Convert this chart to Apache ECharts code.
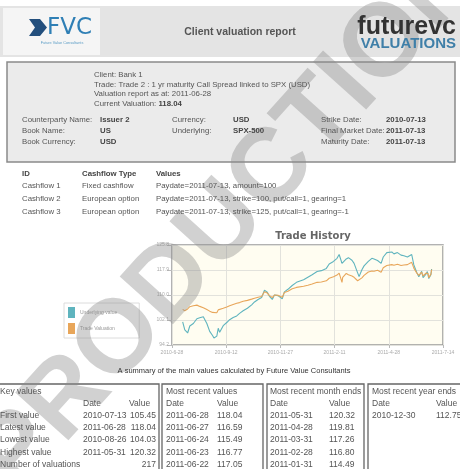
<!DOCTYPE html>
<html><head><meta charset="utf-8">
<script src="https://cdn.jsdelivr.net/npm/echarts@6/dist/echarts.min.js"></script>
<style>html,body{margin:0;padding:0;background:#fff}#c{width:460px;height:469px}</style>
</head><body><div id="c"></div>
<script>
// ---- chart data ----
const dates = ['2010-07-13','2010-07-16','2010-07-20','2010-07-23','2010-07-28','2010-08-02','2010-08-06','2010-08-11','2010-08-16','2010-08-20','2010-08-24','2010-08-26','2010-08-30','2010-09-01','2010-09-03','2010-09-08','2010-09-13','2010-09-17','2010-09-22','2010-09-27','2010-10-01','2010-10-06','2010-10-12','2010-10-18','2010-10-22','2010-10-27','2010-11-01','2010-11-05','2010-11-09','2010-11-12','2010-11-16','2010-11-19','2010-11-24','2010-11-30','2010-12-03','2010-12-08','2010-12-14','2010-12-20','2010-12-30','2011-01-05','2011-01-11','2011-01-18','2011-01-24','2011-01-31','2011-02-04','2011-02-10','2011-02-15','2011-02-18','2011-02-22','2011-02-23','2011-02-28','2011-03-03','2011-03-08','2011-03-11','2011-03-16','2011-03-18','2011-03-22','2011-03-25','2011-03-31','2011-04-05','2011-04-08','2011-04-13','2011-04-18','2011-04-21','2011-04-26','2011-04-28','2011-05-03','2011-05-06','2011-05-11','2011-05-16','2011-05-20','2011-05-25','2011-05-31','2011-06-03','2011-06-07','2011-06-10','2011-06-14','2011-06-16','2011-06-20','2011-06-22','2011-06-23','2011-06-24','2011-06-27','2011-06-28'];
const tradeValues = [105.45,105.0,105.6,106.3,106.6,106.8,106.4,106.0,105.4,104.9,104.5,104.03,104.4,105.3,105.1,105.8,106.2,106.6,107.0,107.4,107.6,108.0,108.3,108.7,109.0,109.3,109.5,111.0,110.6,109.8,109.2,110.0,109.9,109.3,110.8,111.2,112.0,112.4,112.75,113.1,113.5,114.0,114.1,114.49,115.3,115.8,116.3,116.9,114.0,115.6,116.80,116.4,116.0,115.6,114.5,114.0,115.4,116.2,117.26,117.6,117.5,117.8,117.2,118.6,119.3,119.81,119.6,119.4,119.7,119.3,119.5,119.6,120.32,118.5,117.0,116.2,117.2,116.0,116.9,117.05,116.77,115.49,116.59,118.04];
const underlyingValues = [101.5,99.0,98.0,100.2,101.0,102.5,102.8,103.1,101.0,98.5,97.2,96.4,97.0,99.5,98.2,100.3,101.3,102.2,102.9,103.4,104.2,105.0,105.8,106.9,107.8,108.6,109.2,111.5,110.9,109.6,108.6,110.0,109.8,108.8,111.0,111.8,113.0,114.0,114.8,115.6,116.4,117.4,117.7,118.4,119.8,120.6,121.6,122.8,120.0,120.4,121.4,121.8,121.0,120.0,117.0,115.8,118.0,119.2,120.6,121.6,121.4,120.9,120.0,122.0,123.4,124.0,123.6,123.0,123.4,122.6,122.4,122.0,122.8,119.5,117.2,115.8,117.5,115.5,116.6,117.4,116.9,115.2,116.4,118.2];
const seriesNames = ['Underlying value', 'Trade Valuation'];
const xTickLabels = ['2010-6-28','2010-9-12','2010-11-27','2011-2-11','2011-4-28','2011-7-14'];
const xRange = ['2010-06-28', '2011-07-14'];
const yRange = [94.2, 125.8];
const yStep = 7.9;

// ---- report text ----
const clientLines = ['Client: Bank 1', 'Trade: Trade 2 : 1 yr maturity Call Spread linked to SPX (USD)', 'Valuation report as at: 2011-06-28'];
const currentValuation = '118.04';
const infoLabels1 = ['Counterparty Name:', 'Book Name:', 'Book Currency:'];
const infoValues1 = ['Issuer 2', 'US', 'USD'];
const infoLabels2 = ['Currency:', 'Underlying:'];
const infoValues2 = ['USD', 'SPX-500'];
const infoLabels3 = ['Strike Date:', 'Final Market Date:', 'Maturity Date:'];
const infoValues3 = ['2010-07-13', '2011-07-13', '2011-07-13'];
const cashflowHeader = ['ID', 'Cashflow Type', 'Values'];
const cashflowIds = ['Cashflow 1', 'Cashflow 2', 'Cashflow 3'];
const cashflowTypes = ['Fixed cashflow', 'European option', 'European option'];
const cashflowValues = ['Paydate=2011-07-13, amount=100', 'Paydate=2011-07-13, strike=100, put/call=1, gearing=1', 'Paydate=2011-07-13, strike=125, put/call=1, gearing=-1'];
const caption = 'A summary of the main values calculated by Future Value Consultants';
const keyLabels = ['First value', 'Latest value', 'Lowest value', 'Highest value', 'Number of valuations'];
const keyDates = ['2010-07-13', '2011-06-28', '2010-08-26', '2011-05-31', ''];
const keyVals = ['105.45', '118.04', '104.03', '120.32', '217'];
const recentDates = ['2011-06-28', '2011-06-27', '2011-06-24', '2011-06-23', '2011-06-22'];
const recentVals = ['118.04', '116.59', '115.49', '116.77', '117.05'];
const monthDates = ['2011-05-31', '2011-04-28', '2011-03-31', '2011-02-28', '2011-01-31'];
const monthVals = ['120.32', '119.81', '117.26', '116.80', '114.49'];
const yearDates = ['2010-12-30'];
const yearVals = ['112.75'];

function ts(s) { const p = s.split('-').map(Number); return Date.UTC(p[0], p[1] - 1, p[2]); }
const xMin = ts(xRange[0]), xMax = ts(xRange[1]);
const xInterval = (xMax - xMin) / (xTickLabels.length - 1);

const FF = 'Liberation Sans, Arial, sans-serif';
const IS = 7.8;
function T(x, y, text, o) {
  o = o || {};
  return { type: 'text', x: x, y: y, z: o.z || 20, silent: true,
    style: { text: text, fill: o.color || '#555', fontSize: o.size || IS, fontFamily: o.family || FF,
      fontWeight: o.weight || 'normal', align: o.align || 'left', verticalAlign: 'middle' } };
}
function R(x, y, w, h, fill, stroke, lw, z) {
  return { type: 'rect', z: z || 1, silent: true, shape: { x: x, y: y, width: w, height: h },
    style: { fill: fill, stroke: stroke || null, lineWidth: lw || 0 } };
}

const g = [];
// header
g.push(R(0, 6, 460, 51, '#e4e4e4'));
g.push(R(3, 8, 97, 47, '#f5f5f5'));
g.push({ type: 'polygon', z: 3, silent: true, shape: { points: [[29, 19], [40, 19], [47, 27.5], [40, 36], [29, 36], [35, 27.5]] }, style: { fill: '#234f7d' } });
g.push(T(47, 28, 'FVC', { size: 23, color: '#2f7fb5', family: 'DejaVu Sans, sans-serif' }));
g.push(T(62, 43, 'Future Value Consultants', { size: 3.8, color: '#5a9cc5', align: 'center' }));
g.push(T(240, 32, 'Client valuation report', { size: 10.5, weight: 'bold', color: '#555', align: 'center' }));
g.push(T(456, 27, 'futurevc', { size: 25, weight: 'bold', color: '#333', align: 'right' }));
g.push(T(456, 44, 'VALUATIONS', { size: 15, weight: 'bold', color: '#3f7fa8', align: 'right' }));

// info box
g.push(R(7, 62, 448, 100, '#ebebeb', '#8a8a8a', 1.5));
clientLines.forEach((t, i) => g.push(T(94, 75 + i * 9.5, t)));
g.push({ type: 'text', x: 94, y: 103.5, z: 20, silent: true,
  style: { text: '{a|Current Valuation: }{b|' + currentValuation + '}', fontSize: IS, fontFamily: FF, verticalAlign: 'middle',
    rich: { a: { fill: '#555', fontSize: IS, fontFamily: FF }, b: { fill: '#444', fontSize: IS, fontFamily: FF, fontWeight: 'bold' } } } });
const rowsY = [120, 131, 142];
infoLabels1.forEach((t, i) => { g.push(T(22, rowsY[i], t)); g.push(T(100, rowsY[i], infoValues1[i], { weight: 'bold', color: '#444' })); });
infoLabels2.forEach((t, i) => { g.push(T(172, rowsY[i], t)); g.push(T(233, rowsY[i], infoValues2[i], { weight: 'bold', color: '#444' })); });
infoLabels3.forEach((t, i) => { g.push(T(321, rowsY[i], t)); g.push(T(386, rowsY[i], infoValues3[i], { weight: 'bold', color: '#444' })); });

// cashflow table
const cfX = [22, 82, 156];
cashflowHeader.forEach((t, i) => g.push(T(cfX[i], 174, t, { weight: 'bold', color: '#444' })));
cashflowIds.forEach((t, i) => {
  const y = 186 + i * 13;
  g.push(T(cfX[0], y, t)); g.push(T(cfX[1], y, cashflowTypes[i])); g.push(T(cfX[2], y, cashflowValues[i]));
});

// caption
g.push(T(234, 371, caption, { size: 7.5, color: '#333', align: 'center' }));

// summary boxes
const boxes = [
  { x: -2, w: 161, title: 'Key values', dx: 0, vx: 129 },
  { x: 162, w: 101, title: 'Most recent values', dx: 166, vx: 217 },
  { x: 267, w: 97, title: 'Most recent month ends', dx: 270, vx: 329 },
  { x: 368, w: 100, title: 'Most recent year ends', dx: 372, vx: 436 }
];
boxes.forEach(b => { g.push(R(b.x, 384, b.w, 100, '#fff', '#666', 1.3, 2)); });
const TS = 8.5, TC = '#555';
const rowY = [416, 428, 440, 453, 465];
boxes.forEach((b, k) => {
  g.push(T(b.dx, 392, b.title, { size: TS, color: TC }));
  g.push(T(k === 0 ? 83 : b.dx, 404, 'Date', { size: TS, color: TC }));
  g.push(T(b.vx, 404, 'Value', { size: TS, color: TC }));
});
keyLabels.forEach((t, i) => {
  g.push(T(0, rowY[i], t, { size: TS, color: TC }));
  if (keyDates[i]) g.push(T(83, rowY[i], keyDates[i], { size: TS, color: TC }));
  g.push(T(156, rowY[i], keyVals[i], { size: TS, color: TC, align: 'right' }));
});
recentDates.forEach((d, i) => { g.push(T(166, rowY[i], d, { size: TS, color: TC })); g.push(T(217, rowY[i], recentVals[i], { size: TS, color: TC })); });
monthDates.forEach((d, i) => { g.push(T(270, rowY[i], d, { size: TS, color: TC })); g.push(T(329, rowY[i], monthVals[i], { size: TS, color: TC })); });
yearDates.forEach((d, i) => { g.push(T(372, rowY[i], d, { size: TS, color: TC })); g.push(T(436, rowY[i], yearVals[i], { size: TS, color: TC })); });

// watermark
g.push({ type: 'text', x: 230, y: 218, z: 8, silent: true, rotation: 48 * Math.PI / 180,
  style: { text: 'PRODUCTION', fill: 'rgba(140,140,140,0.40)', fontSize: 104, fontWeight: 'bold', fontFamily: FF, align: 'center', verticalAlign: 'middle' } });

const chart = echarts.init(document.getElementById('c'), null, { renderer: 'canvas' });
chart.setOption({
  animation: false,
  backgroundColor: '#fff',
  title: { text: 'Trade History', left: 308, top: 226, textAlign: 'center',
    textStyle: { fontSize: 10, fontWeight: 'bold', color: '#666', fontFamily: 'DejaVu Sans, sans-serif' } },
  legend: { data: seriesNames, orient: 'vertical', left: 64, top: 303, icon: 'rect', itemWidth: 7, itemHeight: 11, itemGap: 5,
    backgroundColor: '#fff', borderColor: '#dcdcdc', borderWidth: 1, padding: [4, 22, 4, 4],
    textStyle: { fontSize: 5, color: '#999', fontFamily: FF } },
  grid: { left: 172, right: 17, top: 245, bottom: 124, show: true, backgroundColor: '#fffdf1', borderColor: '#999', borderWidth: 1.5, containLabel: false },
  xAxis: { type: 'value', min: xMin, max: xMax, interval: xInterval,
    axisLine: { show: false }, axisTick: { show: true, length: 3, lineStyle: { color: '#bbb' } },
    splitLine: { show: true, lineStyle: { color: '#e2e2dc', width: 1 } },
    axisLabel: { fontSize: 5, color: '#aaa', margin: 5, formatter: v => xTickLabels[Math.round((v - xMin) / xInterval)] || '' } },
  yAxis: { type: 'value', min: yRange[0], max: yRange[1], interval: yStep,
    axisLine: { show: false }, axisTick: { show: true, length: 5, lineStyle: { color: '#bbb' } },
    splitLine: { show: true, lineStyle: { color: '#e2e2dc', width: 1 } },
    axisLabel: { fontSize: 5, color: '#aaa', margin: 3, formatter: v => v.toFixed(1) } },
  series: [
    { name: seriesNames[0], type: 'line', showSymbol: false, color: '#5fb4be', lineStyle: { width: 1.1 },
      data: dates.map((d, i) => [ts(d), underlyingValues[i]]) },
    { name: seriesNames[1], type: 'line', showSymbol: false, color: '#e8a65a', lineStyle: { width: 1.1 },
      data: dates.map((d, i) => [ts(d), tradeValues[i]]) }
  ],
  graphic: { elements: g }
});
</script></body></html>
